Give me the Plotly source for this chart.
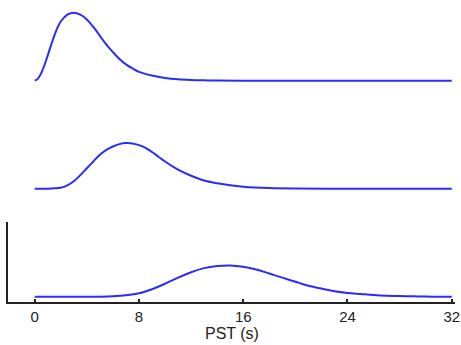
import plotly.graph_objects as go

# PST (s) sample times and the three basis-function amplitudes
t_early = [0, 0.25, 0.5, 0.75, 1, 1.25, 1.5, 1.75, 2, 2.5, 3, 3.5, 4, 4.5, 5, 5.5, 6, 6.5, 7, 7.5, 8, 9, 10, 11, 12, 13, 14, 16, 20, 24, 28, 32]
y_early = [0, 0.03, 0.11, 0.23, 0.37, 0.52, 0.66, 0.78, 0.87, 0.97, 1.0, 0.97, 0.90, 0.79, 0.66, 0.53, 0.42, 0.32, 0.24, 0.18, 0.13, 0.075, 0.04, 0.02, 0.01, 0.005, 0.002, 0, 0, 0, 0, 0]

t_mid = [0, 1, 1.5, 2, 2.5, 3, 3.5, 4, 4.5, 5, 5.5, 6, 6.5, 7, 7.5, 8, 8.5, 9, 9.5, 10, 11, 12, 13, 14, 15, 16, 18, 20, 24, 28, 32]
y_mid = [0, 0, 0.005, 0.015, 0.05, 0.11, 0.20, 0.30, 0.40, 0.50, 0.57, 0.62, 0.655, 0.67, 0.665, 0.64, 0.60, 0.54, 0.47, 0.40, 0.28, 0.19, 0.12, 0.08, 0.05, 0.03, 0.01, 0.003, 0, 0, 0]

t_late = [0, 2, 4, 5, 6, 7, 8, 9, 10, 11, 12, 13, 14, 15, 16, 17, 18, 19, 20, 21, 22, 23, 24, 25, 26, 27, 28, 29, 30, 31, 32]
y_late = [0, 0, 0, 0, 0.005, 0.02, 0.05, 0.11, 0.19, 0.28, 0.36, 0.42, 0.45, 0.46, 0.44, 0.40, 0.34, 0.28, 0.22, 0.16, 0.12, 0.08, 0.055, 0.04, 0.025, 0.015, 0.01, 0.005, 0.002, 0, 0]

tick_vals = [0, 8, 16, 24, 32]
tick_text = ["0", "8", "16", "24", "32"]
x_title = "PST (s)"

line = dict(color="#2b2bff", width=2, shape="spline", smoothing=1.0)

fig = go.Figure()
fig.add_trace(go.Scatter(x=t_early, y=y_early, mode="lines", line=line, xaxis="x", yaxis="y3"))
fig.add_trace(go.Scatter(x=t_mid, y=y_mid, mode="lines", line=line, xaxis="x", yaxis="y2"))
fig.add_trace(go.Scatter(x=t_late, y=y_late, mode="lines", line=line, xaxis="x", yaxis="y"))

yr = [-0.078, 1.098]
hidden_y = dict(range=yr, showgrid=False, zeroline=False, showline=False, showticklabels=False,
                ticks="", fixedrange=True, automargin=False)

fig.update_layout(
    width=461, height=345,
    margin=dict(l=8, r=6, t=5, b=43, autoexpand=False),
    paper_bgcolor="white", plot_bgcolor="white",
    showlegend=False,
    font=dict(family="Liberation Sans, Arial, sans-serif", color="#222"),
    xaxis=dict(
        range=[-2.05, 32.25], anchor="y", automargin=False,
        tickvals=tick_vals, ticktext=tick_text,
        ticks="inside", ticklen=3, tickwidth=1.5, tickcolor="#222",
        showline=True, linecolor="#222", linewidth=1.5,
        showgrid=False, zeroline=False,
        tickfont=dict(size=15, color="#222"),
    ),
    yaxis=dict(range=yr, domain=[0, 0.2694], showgrid=False, zeroline=False,
               showline=True, linecolor="#222", linewidth=1.5, automargin=False,
               showticklabels=False, ticks=""),
    yaxis2=dict(domain=[0.3636, 0.633], anchor="x", **hidden_y),
    yaxis3=dict(domain=[0.7273, 0.9966], anchor="x", **hidden_y),
    annotations=[dict(text=x_title, xref="x domain", yref="paper", x=0.5, y=0,
                      yshift=-21, xanchor="center", yanchor="top", showarrow=False,
                      font=dict(size=16, color="#222"))],
)

fig.write_html("out.html", config={"displayModeBar": False},
               post_script="document.body.style.margin='0';")
